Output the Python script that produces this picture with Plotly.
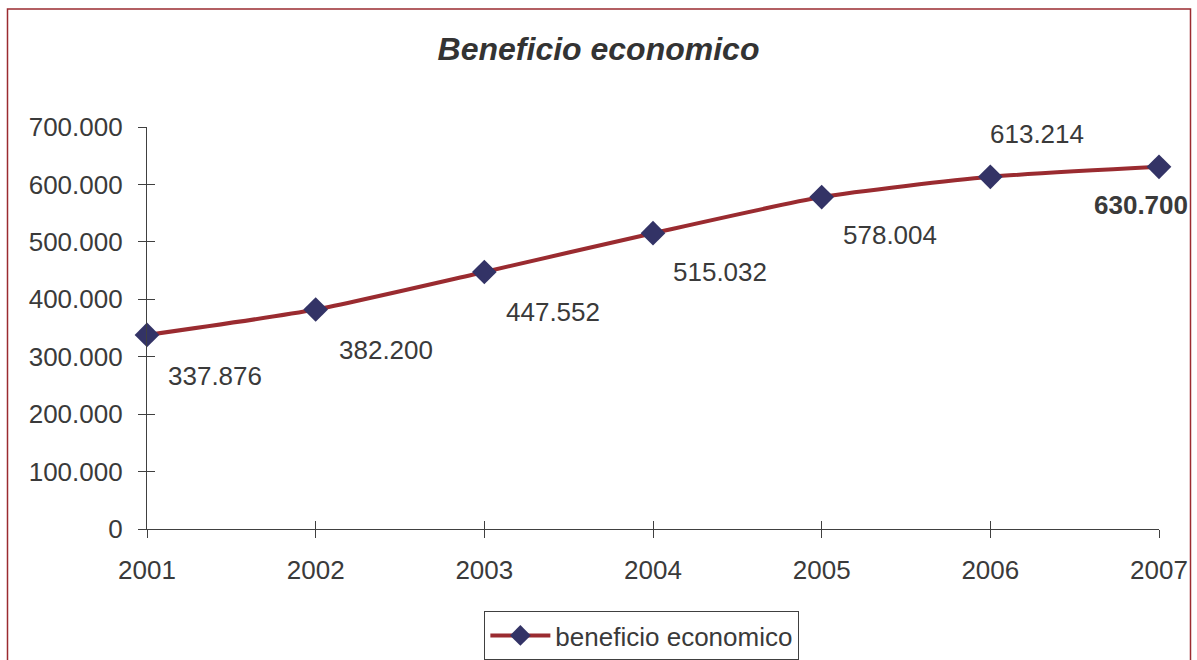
import plotly.graph_objects as go

years = [2001, 2002, 2003, 2004, 2005, 2006, 2007]
values = [337876, 382200, 447552, 515032, 578004, 613214, 630700]
value_labels = ["337.876", "382.200", "447.552", "515.032", "578.004", "613.214", "<b>630.700</b>"]
label_dx = [68, 70, 69, 67, 68, 47, -18]
label_dy = [-41, -40, -40, -39, -38, 43, -38]
ytick_vals = [0, 100000, 200000, 300000, 400000, 500000, 600000, 700000]
ytick_text = ["0", "100.000", "200.000", "300.000", "400.000", "500.000", "600.000", "700.000"]
xtick_text = ["2001", "2002", "2003", "2004", "2005", "2006", "2007"]

W, H = 1197, 660
L, R, T, B = 147, 38, 127, 131
pw, ph = W - L - R, H - T - B

TXT = "#3a3a3a"
AX = "#404040"
FONT = "Liberation Sans, Arial, Helvetica, sans-serif"

fig = go.Figure()
fig.add_trace(go.Scatter(
    x=years, y=values, mode="lines+markers", name="beneficio economico",
    line=dict(color="#9a2b30", width=4, shape="spline", smoothing=0.6),
    marker=dict(symbol="diamond", size=19, color="#333366"),
    cliponaxis=False,
))
# invisible helper trace so the overlay axes (inner half of crossing ticks) render
fig.add_trace(go.Scatter(x=[years[0]], y=[ytick_vals[0]], xaxis="x2", yaxis="y2",
                         mode="markers", marker=dict(opacity=0), showlegend=False,
                         hoverinfo="skip"))

for x, y, t, dx, dy in zip(years, values, value_labels, label_dx, label_dy):
    fig.add_annotation(x=x, y=y, text=t, showarrow=False, xshift=dx, yshift=dy,
                       font=dict(size=26, color=TXT, family=FONT))

def px_x(p):
    return (p - L) / pw

def px_y(p):
    return (H - B - p) / ph

fig.add_shape(type="rect", xref="paper", yref="paper",
              x0=px_x(7.5), x1=px_x(1190.5), y0=px_y(666), y1=px_y(9),
              line=dict(color="#9a2b30", width=1.5), fillcolor="rgba(0,0,0,0)", layer="below")

axis_common = dict(showgrid=False, zeroline=False, showline=True, linecolor=AX, linewidth=1.2,
                   tickcolor=AX, tickwidth=1.2, ticklen=8)

fig.update_layout(
    width=W, height=H,
    margin=dict(l=L, r=R, t=T, b=B, autoexpand=False),
    paper_bgcolor="white", plot_bgcolor="white",
    font=dict(family=FONT, size=26, color=TXT),
    title=dict(text="<b><i>Beneficio economico</i></b>", x=0.5, xref="container", xanchor="center",
               y=1 - 49 / H, yref="container", yanchor="middle",
               font=dict(size=32, color="#333333", family=FONT)),
    xaxis=dict(range=[2001, 2007], tickvals=years, ticktext=xtick_text, ticks="outside",
               ticklabelstandoff=10, **axis_common),
    yaxis=dict(range=[0, 700000], tickvals=ytick_vals, ticktext=ytick_text, ticks="outside",
               ticklabelstandoff=10, **axis_common),
    xaxis2=dict(range=[2001, 2007], tickvals=years, ticks="inside", showticklabels=False,
                overlaying="x", side="bottom", anchor="y", **axis_common),
    yaxis2=dict(range=[0, 700000], tickvals=ytick_vals, ticks="inside", showticklabels=False,
                overlaying="y", side="left", anchor="x", **axis_common),
    showlegend=True,
    legend=dict(x=0.489, y=px_y(611), xanchor="center", yanchor="top", orientation="h",
                bordercolor=AX, borderwidth=1, font=dict(size=26, color=TXT), itemwidth=60,
                bgcolor="white"),
)

fig.write_html("out.html")
